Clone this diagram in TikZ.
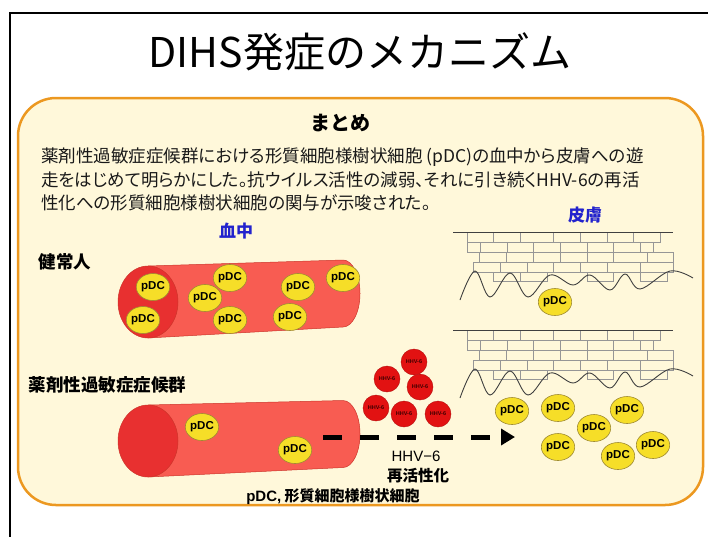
\documentclass[tikz,border=0pt]{standalone}
\usepackage{fontspec}
\setmainfont{Noto Sans CJK JP}
\newfontfamily\paratext{Noto Sans CJK JP}[RawFeature=+palt]
\newfontfamily\latinsans{Liberation Sans}
\usetikzlibrary{arrows.meta, calc, shapes.geometric}
\definecolor{boxFill}{RGB}{255,248,218}
\definecolor{boxEdge}{RGB}{236,152,32}
\definecolor{vesselRed}{RGB}{248,92,82}
\definecolor{vesselEnd}{RGB}{232,48,48}
\definecolor{vesselEdge}{RGB}{205,52,42}
\definecolor{pdcYellow}{RGB}{246,222,40}
\definecolor{pdcEdge}{RGB}{160,140,50}
\definecolor{virusRed}{RGB}{226,18,18}
\definecolor{labelBlue}{RGB}{35,35,205}
\definecolor{brickGray}{RGB}{150,150,150}

% tube: #1 name, #2 centre of the open end, #3 centre of the round end
\newcommand{\BloodVessel}[3]{
	\coordinate (#1L) at #2;
	\coordinate (#1R) at #3;
	\filldraw[fill=vesselRed, draw=vesselEdge, line width=0.5pt] ($(#1L)+(0,-36)$) -- ($(#1R)+(0,-33.5)$)
		arc[start angle=90, end angle=-90, x radius=17pt, y radius=33.5pt] -- ($(#1L)+(0,36)$) -- cycle;
	\filldraw[fill=vesselEnd, draw=vesselEdge, line width=0.5pt] (#1L) ellipse[x radius=30pt, y radius=36pt];
}

% epidermis with the wavy basement line, #1 vertical offset
\newcommand{\SkinLayer}[1]{
	\begin{scope}[shift={(0,#1)}]
		\foreach \y/\xa/\xb/\joints in {232/467/660/{493,520,553,580,607,633},
				242/467/653/{480,507,533,560,587,613,640},
				252/479/673/{506,533,560,587,613,647},
				262/473/673/{500,527,553,580,607,640}}{
			\draw[brick] (\xa,\y) rectangle (\xb,\y+10);
			\foreach \j in \joints \draw[brick] (\j,\y) -- (\j,\y+10);
		}
		\foreach \xa/\xb in {493/520, 520/547, 587/613, 640/667}
			\draw[brick] (\xa,272) rectangle (\xb,281);
		\draw[skinline] (453,232) -- (673,232);
		\draw[skinline] plot[smooth, tension=0.6] coordinates {(460,300) (475,271) (490,297) (510,273)
			(528,297) (550,275) (573,285) (590,275) (610,290) (625,274) (640,289) (670,271) (693,278)};
	\end{scope}
}

\begin{document}
\begin{tikzpicture}[x=1pt, y=-1pt,
		pdc/.style={ellipse, draw=pdcEdge, fill=pdcYellow, line width=0.6pt, inner sep=0pt,
			minimum width=31pt, minimum height=27pt, font=\latinsans\bfseries\fontsize{11.5}{12}\selectfont},
		virus/.style={circle, fill=virusRed, draw=virusRed!80!black, line width=0.4pt, inner sep=0pt,
			minimum size=26pt, text=black!75!red, font=\latinsans\bfseries\fontsize{5.5}{6}\selectfont},
		brick/.style={draw=brickGray, line width=0.5pt},
		skinline/.style={draw=black!75, line width=0.9pt},
		heading/.style={font=\bfseries\fontsize{17.5}{20}\selectfont},
		tissue/.style={text=labelBlue, font=\bfseries\fontsize{17}{20}\selectfont},
		bodytext/.style={anchor=west, inner sep=0pt, text=black!90, font=\paratext\fontsize{17.5}{20}\selectfont},
		flow/.style={line width=5pt, dash pattern=on 19pt off 18pt, -{Triangle[length=14pt, width=16pt]}}
	]
	\useasboundingbox (0,0) rectangle (708,536);
	\fill[white] (0,0) rectangle (708,536);

	\draw[line width=2pt] (10,545) -- (10,13) -- (715,13);
	\node (title) at (360,52) {\fontsize{41}{44}\selectfont DIHS発症のメカニズム};

	\filldraw[fill=boxFill, draw=boxEdge, line width=2.5pt, rounded corners=38pt] (18,98) rectangle (703,505);

	\node[font=\bfseries\fontsize{20}{22}\selectfont] (summary) at (340,123) {まとめ};
	\node[bodytext] (line1) at (41,157) {薬剤性過敏症症候群における形質細胞様樹状細胞 (pDC)の血中から皮膚への遊};
	\node[bodytext] (line2) at (41,180) {走をはじめて明らかにした。抗ウイルス活性の減弱、それに引き続くHHV-6の再活};
	\node[bodytext] (line3) at (41,203) {性化への形質細胞様樹状細胞の関与が示唆された。};

	\node[tissue] (blood) at (236,231) {血中};
	\node[tissue] (skin) at (585,215) {皮膚};
	\node[heading, anchor=west] (healthy) at (35,262) {健常人};
	\node[heading, anchor=west] (dihs) at (25,385) {薬剤性過敏症症候群};

	% healthy: pDCs stay in the blood
	\BloodVessel{ves1}{(148,302)}{(343,293.5)}
	\foreach \p [count=\i] in {(153,287),(143,320),(205,298),(230,278),(230,320),(298,287),(290,317),(343,278)}
		\node[pdc] (a\i) at \p {pDC};
	\SkinLayer{0}
	\node[pdc] (b1) at (555,302) {pDC};

	% DIHS: pDCs leave the blood for the skin
	\BloodVessel{ves2}{(148,441)}{(343,434)}
	\node[pdc] (c1) at (202,427) {pDC};
	\node[pdc] (c2) at (295,450) {pDC};
	\SkinLayer{98}
	\foreach \p [count=\i] in {(512,411),(558,408),(627,410),(594,428),(558,447),(618,456),(653,445)}
		\node[pdc] (d\i) at \p {pDC};

	\foreach \p [count=\i] in {(414,362),(387,379),(420,387),(376,408),(404,414),(438,414)}
		\node[virus] (v\i) at \p {HHV-6};

	\coordinate (flowStart) at (323,437);
	\coordinate (flowEnd) at (515,437);
	\draw[flow] (flowStart) -- (flowEnd);

	\node[font=\latinsans\fontsize{15}{16}\selectfont] (hhv) at (416,456) {HHV−6};
	\node[font=\bfseries\fontsize{15.5}{17}\selectfont] (react) at (418,476) {再活性化};
	\node[font=\bfseries\fontsize{15}{17}\selectfont] (legend) at (333,497) {{\latinsans pDC,} 形質細胞様樹状細胞};
\end{tikzpicture}
\end{document}
